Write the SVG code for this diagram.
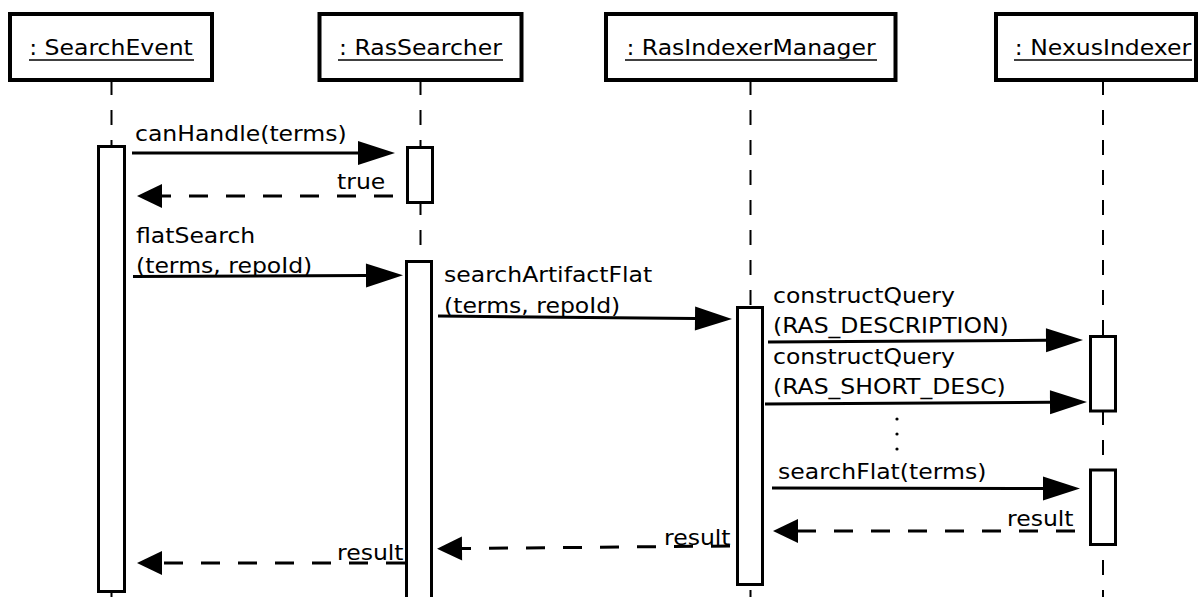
<svg xmlns="http://www.w3.org/2000/svg" width="1203" height="597" viewBox="0 0 1203 597">
  <style>
    .head { fill: #ffffff; stroke: #000000; stroke-width: 4; }
    .uline { stroke: #000000; stroke-width: 1.6; }
    .life { stroke: #000000; stroke-width: 2; stroke-dasharray: 15 15; fill: none; }
    .bar { fill: #ffffff; stroke: #000000; stroke-width: 3; }
    .call { stroke: #000000; stroke-width: 3; fill: none; marker-end: url(#callHead); }
    .reply { stroke: #000000; stroke-width: 3; fill: none; stroke-dasharray: 19 18; marker-end: url(#replyHead); }
    text { font-family: "DejaVu Sans", "Noto Sans", sans-serif; font-size: 22px; fill: #000000; }
    .mid { text-anchor: middle; }
  </style>
  <defs>
    <!-- filled heads: long one for synchronous calls, short one for replies -->
    <marker id="callHead" markerUnits="userSpaceOnUse" markerWidth="40" markerHeight="26" viewBox="0 -13 40 26" refX="0" refY="0" orient="auto" overflow="visible">
      <path d="M0,-12 L37,0 L0,12 z" fill="#000000"/>
    </marker>
    <marker id="replyHead" markerUnits="userSpaceOnUse" markerWidth="28" markerHeight="26" viewBox="0 -13 28 26" refX="0" refY="0" orient="auto" overflow="visible">
      <path d="M0,-12 L25,0 L0,12 z" fill="#000000"/>
    </marker>
  </defs>
  <rect width="1203" height="597" fill="#ffffff"/>

  <!-- participant: SearchEvent -->
  <g id="searchEvent">
    <line class="life" x1="111.5" y1="80" x2="111.5" y2="597"/>
    <rect class="head" x="10" y="14" width="202" height="66"/>
    <text class="mid" transform="translate(111,54.5) scale(1.07,1)">: SearchEvent</text>
    <line class="uline" x1="29" y1="60" x2="194" y2="60"/>
    <rect class="bar" x="98.5" y="146.5" width="26" height="445"/>
  </g>

  <!-- participant: RasSearcher -->
  <g id="rasSearcher">
    <line class="life" x1="420.5" y1="80" x2="420.5" y2="597"/>
    <rect class="head" x="319.5" y="14" width="202" height="66"/>
    <text class="mid" transform="translate(420.5,54.5) scale(1.07,1)">: RasSearcher</text>
    <line class="uline" x1="338" y1="60" x2="503" y2="60"/>
    <rect class="bar" x="407.5" y="147.5" width="25" height="55"/>
    <rect class="bar" x="406.5" y="261.5" width="25" height="340"/>
  </g>

  <!-- participant: RasIndexerManager -->
  <g id="rasIndexerManager">
    <line class="life" x1="750.5" y1="80" x2="750.5" y2="597"/>
    <rect class="head" x="606" y="14" width="289.5" height="66"/>
    <text class="mid" transform="translate(751,54.5) scale(1.07,1)">: RasIndexerManager</text>
    <line class="uline" x1="625" y1="60" x2="877" y2="60"/>
    <rect class="bar" x="737.5" y="307.5" width="25" height="277"/>
  </g>

  <!-- participant: NexusIndexer -->
  <g id="nexusIndexer">
    <line class="life" x1="1103" y1="80" x2="1103" y2="597"/>
    <rect class="head" x="996" y="14" width="200" height="66"/>
    <text class="mid" transform="translate(1103,54.5) scale(1.07,1)">: NexusIndexer</text>
    <line class="uline" x1="1014" y1="60" x2="1192" y2="60"/>
    <rect class="bar" x="1090.5" y="336.5" width="25" height="74.5"/>
    <rect class="bar" x="1090.5" y="470" width="25" height="74.5"/>
  </g>

  <!-- messages -->
  <g id="messages">
    <path class="call" d="M132,153 L358,153"/>
    <text transform="translate(135,141) scale(1.07,1)">canHandle(terms)</text>

    <path class="reply" d="M393,196 L162,196"/>
    <text transform="translate(337,189) scale(1.07,1)">true</text>

    <path class="call" d="M133,276.5 L366,275.5"/>
    <text transform="translate(136,243) scale(1.07,1)">flatSearch</text>
    <text transform="translate(136,273) scale(1.07,1)">(terms, repoId)</text>

    <path class="call" d="M438,316 L695,318.6"/>
    <text transform="translate(444,282) scale(1.07,1)">searchArtifactFlat</text>
    <text transform="translate(444,312.5) scale(1.07,1)">(terms, repoId)</text>

    <path class="call" d="M768,342 L1046,340.2"/>
    <text transform="translate(773,303) scale(1.07,1)">constructQuery</text>
    <text transform="translate(773,333) scale(1.07,1)">(RAS_DESCRIPTION)</text>

    <path class="call" d="M765,404 L1050,402.2"/>
    <text transform="translate(773,364) scale(1.07,1)">constructQuery</text>
    <text transform="translate(773,394) scale(1.07,1)">(RAS_SHORT_DESC)</text>

    <!-- elided further calls -->
    <circle cx="897" cy="419" r="1.6" fill="#000000"/>
    <circle cx="897" cy="434" r="1.6" fill="#000000"/>
    <circle cx="897" cy="449" r="1.6" fill="#000000"/>

    <path class="call" d="M772,488 L1043,488.5"/>
    <text transform="translate(778,479) scale(1.07,1)">searchFlat(terms)</text>

    <path class="reply" d="M1075,531 L798,531"/>
    <text transform="translate(1007,526) scale(1.07,1)">result</text>

    <path class="reply" d="M730,546 L462,548.5"/>
    <text transform="translate(664,545) scale(1.07,1)">result</text>

    <path class="reply" d="M405,563 L162,563"/>
    <text transform="translate(337,560) scale(1.07,1)">result</text>
  </g>
</svg>
